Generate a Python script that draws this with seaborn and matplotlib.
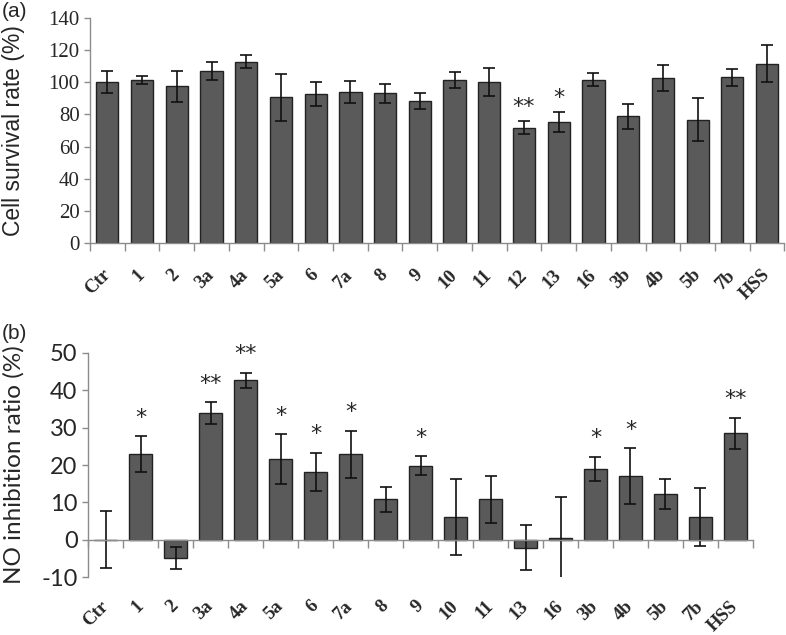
import numpy as np
import pandas as pd
import seaborn as sns
import matplotlib.pyplot as plt
from matplotlib.ticker import FixedLocator

# (a) cell survival
labels_a = ['Ctr', '1', '2', '3a', '4a', '5a', '6', '7a', '8', '9', '10', '11',
            '12', '13', '16', '3b', '4b', '5b', '7b', 'HSS']
survival = [100, 101.4, 97.5, 107.2, 112.8, 90.8, 92.6, 93.9, 93.2, 88.5, 101.2,
            100.1, 71.8, 75.2, 101.7, 78.8, 102.5, 76.8, 103.0, 111.6]
survival_err = [6.7, 2.4, 9.7, 5.5, 4.2, 14.6, 7.4, 6.7, 6.0, 4.9, 5.0, 8.5, 3.8,
                6.4, 4.0, 7.6, 8.0, 13.6, 5.5, 11.7]
stars_a = ['', '', '', '', '', '', '', '', '', '', '', '', '**', '*', '', '', '',
           '', '', '']

# (b) NO inhibition
labels_b = ['Ctr', '1', '2', '3a', '4a', '5a', '6', '7a', '8', '9', '10', '11',
            '13', '16', '3b', '4b', '5b', '7b', 'HSS']
no_inhib = [0, 22.9, -4.9, 33.9, 42.7, 21.6, 18.2, 22.9, 10.8, 19.8, 6.1, 10.8,
            -2.1, 0.4, 18.9, 17.1, 12.2, 6.1, 28.5]
no_err = [7.6, 4.8, 3.0, 3.0, 2.0, 6.6, 5.1, 6.3, 3.4, 2.5, 10.1, 6.3, 6.0, 11.0,
          3.3, 7.5, 4.1, 7.7, 4.2]
stars_b = ['', '*', '', '**', '**', '*', '*', '*', '', '*', '', '', '', '', '*',
           '*', '', '', '**']

sns.set_style("white")
plt.rcParams['font.family'] = ['Liberation Sans', 'DejaVu Sans']

bar_color = '#5a5a5a'
axis_gray = '#8c8c8c'


def draw_panel(ax, labels, values, errs, stars, star_pad):
    df = pd.DataFrame({'compound': labels, 'value': values})
    sns.barplot(data=df, x='compound', y='value', color=bar_color, saturation=1,
                edgecolor='#222222', linewidth=1, width=0.64, errorbar=None, ax=ax)
    x = np.arange(len(labels))
    ax.errorbar(x, values, yerr=errs, fmt='none', ecolor='#111111',
                elinewidth=1.2, capsize=4, capthick=1.2)
    for xi, v, e, s in zip(x, values, errs, stars):
        if s:
            ax.annotate(s, (xi, v + e), xytext=(0, star_pad), textcoords='offset points',
                        ha='center', va='bottom', fontsize=16, family='DejaVu Sans')
    sns.despine(ax=ax)
    for side in ['left', 'bottom']:
        ax.spines[side].set_color(axis_gray)
        ax.spines[side].set_linewidth(1)
    ax.set_xlim(-0.5, len(labels) - 0.5)
    ax.set_xlabel('')
    ax.xaxis.set_minor_locator(FixedLocator(np.arange(len(labels) + 1) - 0.5))
    ax.tick_params(axis='x', which='minor', length=6, width=1, color=axis_gray,
                   direction='out', bottom=True)
    ax.tick_params(axis='y', which='major', length=4, width=1, color=axis_gray,
                   direction='out', left=True)


def style_xlabels(ax, labels):
    ax.set_xticks(np.arange(len(labels)))
    ax.set_xticklabels(labels, rotation=45, ha='right', va='center',
                       rotation_mode='anchor', family='Liberation Serif',
                       fontweight='bold', fontsize=13.5)


fig = plt.figure(figsize=(7.86, 6.35), dpi=100)
ax1 = fig.add_axes([0.1145, 0.6173, 0.8835, 0.3544])
ax2 = fig.add_axes([0.112, 0.0913, 0.846, 0.3528])

draw_panel(ax1, labels_a, survival, survival_err, stars_a, 3)
ax1.set_ylim(0, 140)
ax1.set_yticks(np.arange(0, 141, 20))
ax1.tick_params(axis='x', which='major', length=0, pad=21)
ax1.set_yticklabels([str(v) for v in range(0, 141, 20)], family='Liberation Serif',
                    fontsize=15)
ax1.set_ylabel('Cell survival rate (%)', fontsize=16.5)
ax1.yaxis.set_label_coords(-0.094, 0.5)
style_xlabels(ax1, labels_a)

draw_panel(ax2, labels_b, no_inhib, no_err, stars_b, 6)
ax2.set_ylim(-10, 50)
ax2.spines['bottom'].set_position(('data', 0))
ax2.tick_params(axis='x', which='major', length=0, pad=46)
ax2.set_yticks(np.arange(-10, 51, 10))
ax2.set_yticklabels([str(v) for v in range(-10, 51, 10)], family='Lato',
                    fontsize=17)
ax2.set_ylabel('NO inhibition ratio (%)', fontsize=17.5, family='Lato')
ax2.yaxis.set_label_coords(-0.095, 0.5)
style_xlabels(ax2, labels_b)

fig.text(0.002, 0.997, '(a)', fontsize=15, va='top', ha='left')
fig.text(0.002, 0.49, '(b)', fontsize=15, va='top', ha='left')

fig.savefig('out.png', dpi=100)
